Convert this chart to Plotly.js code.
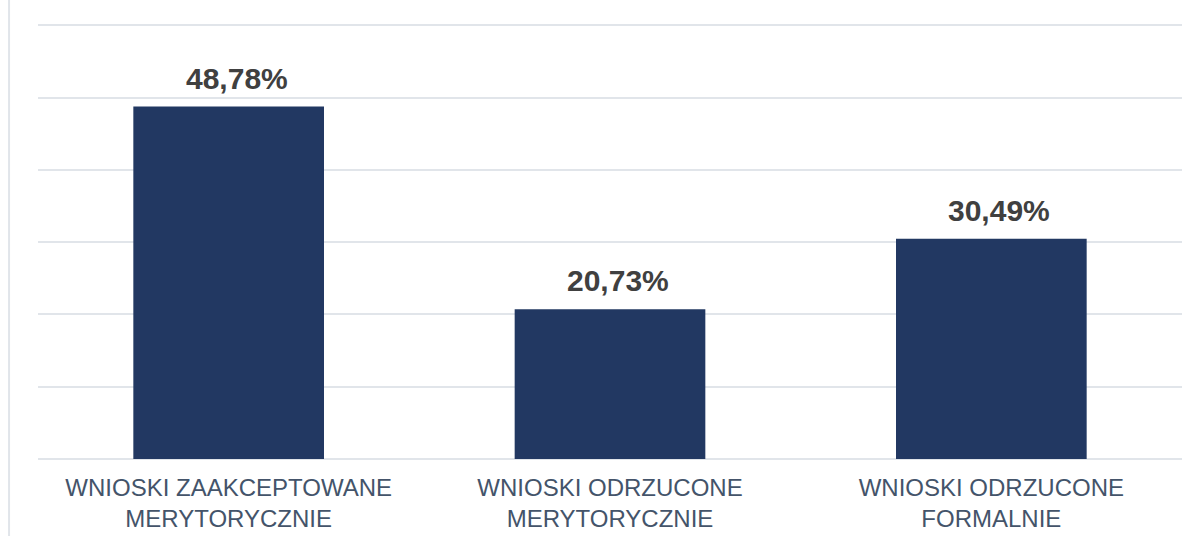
<!DOCTYPE html>
<html>
<head>
<meta charset="utf-8">
<script src="https://cdn.plot.ly/plotly-3.0.1.min.js"></script>
<style>
  html, body { margin: 0; padding: 0; background: #ffffff; }
  #chart { width: 1200px; height: 536px; }
</style>
</head>
<body>
<div id="chart"></div>
<script>
const categories = ["WNIOSKI ZAAKCEPTOWANE MERYTORYCZNIE", "WNIOSKI ODRZUCONE MERYTORYCZNIE", "WNIOSKI ODRZUCONE FORMALNIE"];
const tickLabels = ["WNIOSKI ZAAKCEPTOWANE<br>MERYTORYCZNIE", "WNIOSKI ODRZUCONE<br>MERYTORYCZNIE", "WNIOSKI ODRZUCONE<br>FORMALNIE"];
const values = [48.78, 20.73, 30.49];
const valueLabels = ["48,78%", "20,73%", "30,49%"];

const trace = {
  type: "bar",
  x: categories,
  y: values,
  marker: { color: "#223862" },
  hoverinfo: "none"
};

const annotations = categories.map((c, i) => ({
  x: c, y: values[i], xref: "x", yref: "y",
  text: "<b>" + valueLabels[i] + "</b>",
  showarrow: false,
  yanchor: "bottom",
  yshift: 10,
  xshift: 8,
  font: { family: "Liberation Sans, Arial, sans-serif", size: 30, color: "#404040" }
}));

const layout = {
  width: 1200, height: 536,
  margin: { l: 38, r: 18, t: 11, b: 77 },
  paper_bgcolor: "#ffffff",
  plot_bgcolor: "#ffffff",
  bargap: 0.5,
  showlegend: false,
  xaxis: {
    tickmode: "array",
    tickvals: categories,
    ticktext: tickLabels,
    tickfont: { family: "Liberation Sans, Arial, sans-serif", size: 24, color: "#44546A" },
    ticklabelstandoff: 12,
    showgrid: false,
    zeroline: false,
    showline: false,
    ticks: "",
    ticklen: 0
  },
  yaxis: {
    range: [0, 62],
    tickmode: "linear",
    tick0: 0,
    dtick: 10,
    showticklabels: false,
    showgrid: true,
    gridcolor: "#e1e5ea",
    gridwidth: 2,
    zeroline: true,
    zerolinecolor: "#e1e5ea",
    zerolinewidth: 2,
    ticks: ""
  },
  annotations: annotations,
  shapes: [{
    type: "line", xref: "paper", yref: "paper",
    x0: -0.0253, x1: -0.0253, y0: -0.18, y1: 1.03,
    line: { color: "#e1e5ea", width: 2 },
    layer: "below"
  }]
};

Plotly.newPlot("chart", [trace], layout, { displayModeBar: false, staticPlot: true });
</script>
</body>
</html>
